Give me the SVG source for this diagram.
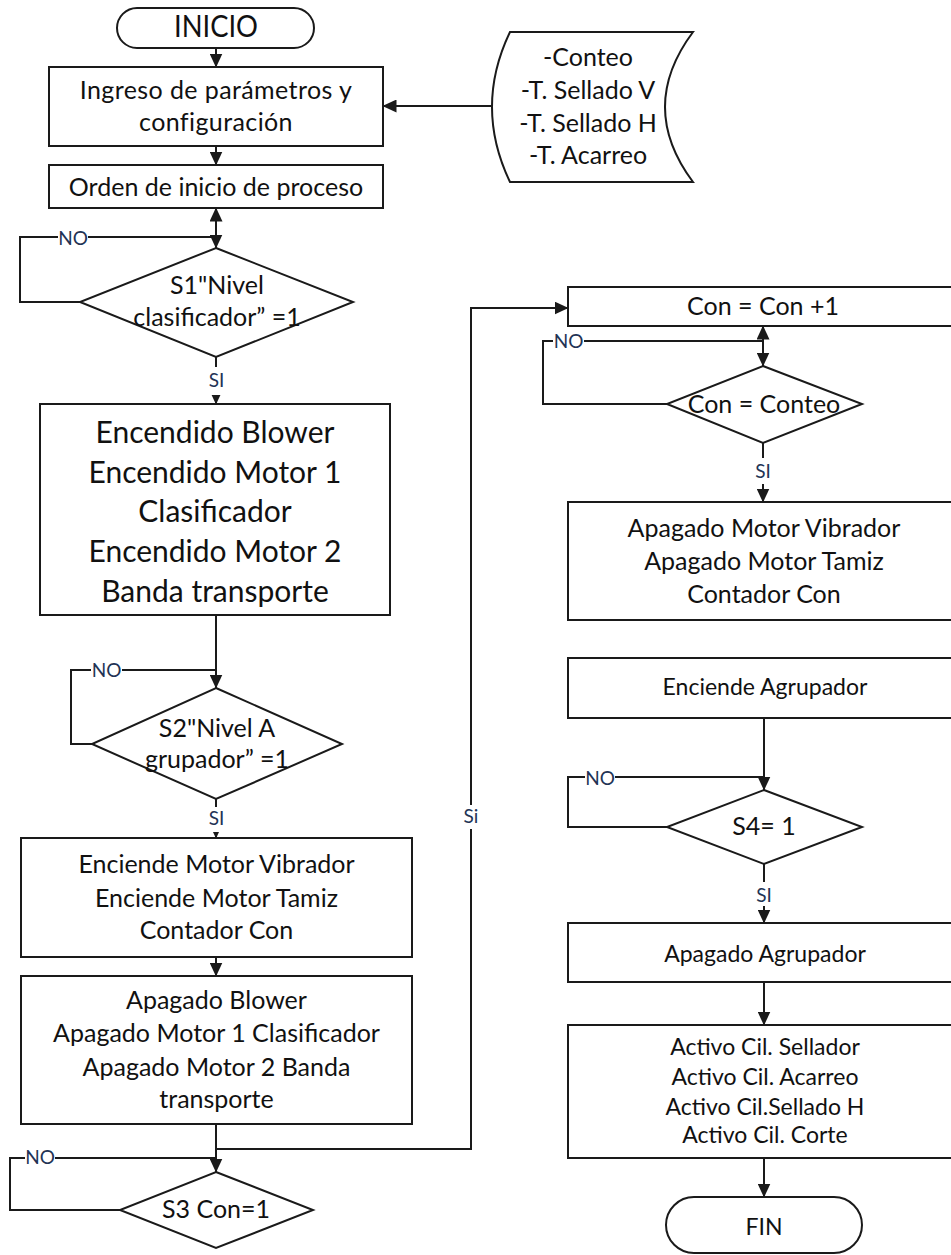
<svg xmlns="http://www.w3.org/2000/svg" width="951" height="1255" viewBox="0 0 951 1255">
  <style>
    .box { fill: #ffffff; stroke: #1a1a1a; stroke-width: 2; }
    .ln { fill: none; stroke: #1a1a1a; stroke-width: 2; }
    .arr { fill: none; stroke: #1a1a1a; stroke-width: 2; marker-end: url(#ah); }
    text { font-family: Lato, "Open Sans", sans-serif; fill: #111111; text-anchor: middle; }
    .t { font-size: 25px; }
    .tb { font-size: 30px; }
    .ts { font-size: 23px; }
    .sp { letter-spacing: 0.4px; }
    .lbl { font-size: 19px; fill: #223355; }
    .bg { fill: #ffffff; stroke: none; }
  </style>
  <defs>
    <marker id="ah" markerUnits="userSpaceOnUse" markerWidth="14" markerHeight="13" refX="13.5" refY="6.5" orient="auto">
      <path d="M0,0 L14,6.5 L0,13 Z" fill="#1a1a1a"/>
    </marker>
  </defs>
  <rect width="951" height="1255" fill="#ffffff"/>

  <!-- connectors -->
  <g id="connectors">
    <line class="arr" x1="216" y1="48" x2="216" y2="67"/>
    <line class="arr" x1="492" y1="106" x2="383" y2="106"/>
    <line class="arr" x1="216" y1="146" x2="216" y2="165"/>
    <!-- S1 loop and double arrow -->
    <line class="arr" x1="216" y1="237" x2="216" y2="208"/>
    <path class="arr" d="M80,302 H20 V237 H216 V248"/>
    <line class="arr" x1="216" y1="357" x2="216" y2="404"/>
    <!-- S2 -->
    <line class="arr" x1="216" y1="615" x2="216" y2="688"/>
    <path class="ln" d="M92,744 H71 V670 H216"/>
    <line class="arr" x1="216" y1="799" x2="216" y2="838"/>
    <line class="arr" x1="216" y1="957" x2="216" y2="976"/>
    <!-- S3 and jump to right column -->
    <line class="arr" x1="216" y1="1124" x2="216" y2="1172"/>
    <path class="arr" d="M216,1149 H471 V308 H568"/>
    <path class="ln" d="M120,1210 H10 V1158 H216"/>
    <!-- Con = Conteo -->
    <line class="arr" x1="763" y1="341" x2="763" y2="326"/>
    <path class="arr" d="M667,404 H543 V341 H763 V366"/>
    <line class="arr" x1="763" y1="443" x2="763" y2="502"/>
    <!-- S4 -->
    <line class="arr" x1="764" y1="718" x2="764" y2="790"/>
    <path class="ln" d="M667,827 H568 V777 H764"/>
    <line class="arr" x1="764" y1="864" x2="764" y2="923"/>
    <line class="arr" x1="764" y1="982" x2="764" y2="1025"/>
    <line class="arr" x1="764" y1="1158" x2="764" y2="1197"/>

    <!-- branch labels -->
    <rect class="bg" x="58" y="229" width="30" height="18"/>
    <text class="lbl" x="73" y="245">NO</text>
    <rect class="bg" x="205" y="367" width="23" height="28"/>
    <text class="lbl" x="216.5" y="387">SI</text>
    <rect class="bg" x="91" y="662" width="31" height="18"/>
    <text class="lbl" x="106.5" y="677">NO</text>
    <rect class="bg" x="205" y="807" width="23" height="25"/>
    <text class="lbl" x="216.5" y="825">SI</text>
    <rect class="bg" x="25" y="1150" width="30" height="18"/>
    <text class="lbl" x="40" y="1164">NO</text>
    <rect class="bg" x="461" y="805" width="20" height="24"/>
    <text class="lbl" x="471" y="823">Si</text>
    <rect class="bg" x="553" y="333" width="31" height="18"/>
    <text class="lbl" x="568.5" y="348">NO</text>
    <rect class="bg" x="752" y="458" width="23" height="26"/>
    <text class="lbl" x="763" y="478">SI</text>
    <rect class="bg" x="585" y="769" width="30" height="18"/>
    <text class="lbl" x="600" y="785">NO</text>
    <rect class="bg" x="753" y="882" width="23" height="24"/>
    <text class="lbl" x="764" y="902">SI</text>
  </g>

  <g id="inicio">
    <rect class="box" x="117" y="8" width="197" height="40" rx="20"/>
    <text class="tb" x="216" y="37" textLength="84" lengthAdjust="spacingAndGlyphs">INICIO</text>
  </g>

  <g id="ingreso">
    <rect class="box" x="49" y="67" width="334" height="79"/>
    <text class="t sp" x="216" y="99">Ingreso de parámetros y</text>
    <text class="t sp" x="216" y="131">configuración</text>
  </g>

  <g id="parametros">
    <path class="box" d="M510,32 H693 Q637,107 693,182 H510 Q474,107 510,32 Z"/>
    <text class="t" x="588" y="66">-Conteo</text>
    <text class="t" x="588" y="99">-T. Sellado V</text>
    <text class="t" x="588" y="132">-T. Sellado H</text>
    <text class="t" x="588" y="164">-T. Acarreo</text>
  </g>

  <g id="orden">
    <rect class="box" x="49" y="165" width="334" height="43"/>
    <text class="t" x="216" y="196">Orden de inicio de proceso</text>
  </g>

  <g id="s1">
    <path class="box" d="M216,248 L353,302 L216,357 L80,302 Z"/>
    <text class="t" x="217" y="294">S1"Nivel</text>
    <text class="t" x="217" y="326">clasificador” =1</text>
  </g>

  <g id="encendido">
    <rect class="box" x="40" y="404" width="350" height="211"/>
    <text class="tb" x="215" y="443">Encendido Blower</text>
    <text class="tb" x="215" y="483">Encendido Motor 1</text>
    <text class="tb" x="215" y="522">Clasificador</text>
    <text class="tb" x="215" y="562">Encendido Motor 2</text>
    <text class="tb" x="215" y="602">Banda transporte</text>
  </g>

  <g id="s2">
    <path class="box" d="M216,688 L342,744 L216,799 L92,744 Z"/>
    <text class="t" x="217" y="737">S2"Nivel A</text>
    <text class="t" x="217" y="768">grupador” =1</text>
  </g>

  <g id="enciende-motores">
    <rect class="box" x="21" y="838" width="391" height="119"/>
    <text class="t" x="216.5" y="873">Enciende Motor Vibrador</text>
    <text class="t" x="216.5" y="907">Enciende Motor Tamiz</text>
    <text class="t" x="216.5" y="939">Contador Con</text>
  </g>

  <g id="apagado-motores">
    <rect class="box" x="21" y="976" width="391" height="148"/>
    <text class="t" x="216.5" y="1009">Apagado Blower</text>
    <text class="t" x="216.5" y="1042">Apagado Motor 1 Clasificador</text>
    <text class="t" x="216.5" y="1076">Apagado Motor 2 Banda</text>
    <text class="t" x="216.5" y="1108">transporte</text>
  </g>

  <g id="s3">
    <path class="box" d="M216,1172 L313,1210 L216,1248 L120,1210 Z"/>
    <text class="t" x="216" y="1218">S3 Con=1</text>
  </g>

  <g id="incremento">
    <rect class="box" x="568" y="287" width="395" height="39"/>
    <text class="t" x="763" y="315">Con = Con +1</text>
  </g>

  <g id="comparacion">
    <path class="box" d="M763,366 L862,404 L763,443 L667,404 Z"/>
    <text class="t" x="764" y="413">Con = Conteo</text>
  </g>

  <g id="apagado-vibrador">
    <rect class="box" x="568" y="502" width="395" height="118"/>
    <text class="t" x="764" y="537">Apagado Motor Vibrador</text>
    <text class="t" x="764" y="570">Apagado Motor Tamiz</text>
    <text class="t" x="764" y="603">Contador Con</text>
  </g>

  <g id="enciende-agrupador">
    <rect class="box" x="568" y="658" width="395" height="60"/>
    <text class="ts" x="765" y="695">Enciende Agrupador</text>
  </g>

  <g id="s4">
    <path class="box" d="M764,790 L862,827 L764,864 L667,827 Z"/>
    <text class="t" x="764" y="835">S4= 1</text>
  </g>

  <g id="apagado-agrupador">
    <rect class="box" x="568" y="923" width="395" height="59"/>
    <text class="ts" x="765" y="962">Apagado Agrupador</text>
  </g>

  <g id="cilindros">
    <rect class="box" x="568" y="1025" width="395" height="133"/>
    <text class="ts" x="765" y="1055">Activo Cil. Sellador</text>
    <text class="ts" x="765" y="1085">Activo Cil. Acarreo</text>
    <text class="ts" x="765" y="1115">Activo Cil.Sellado H</text>
    <text class="ts" x="765" y="1143">Activo Cil. Corte</text>
  </g>

  <g id="fin">
    <rect class="box" x="666" y="1197" width="196" height="56" rx="28"/>
    <text class="ts" x="764" y="1235">FIN</text>
  </g>
</svg>
